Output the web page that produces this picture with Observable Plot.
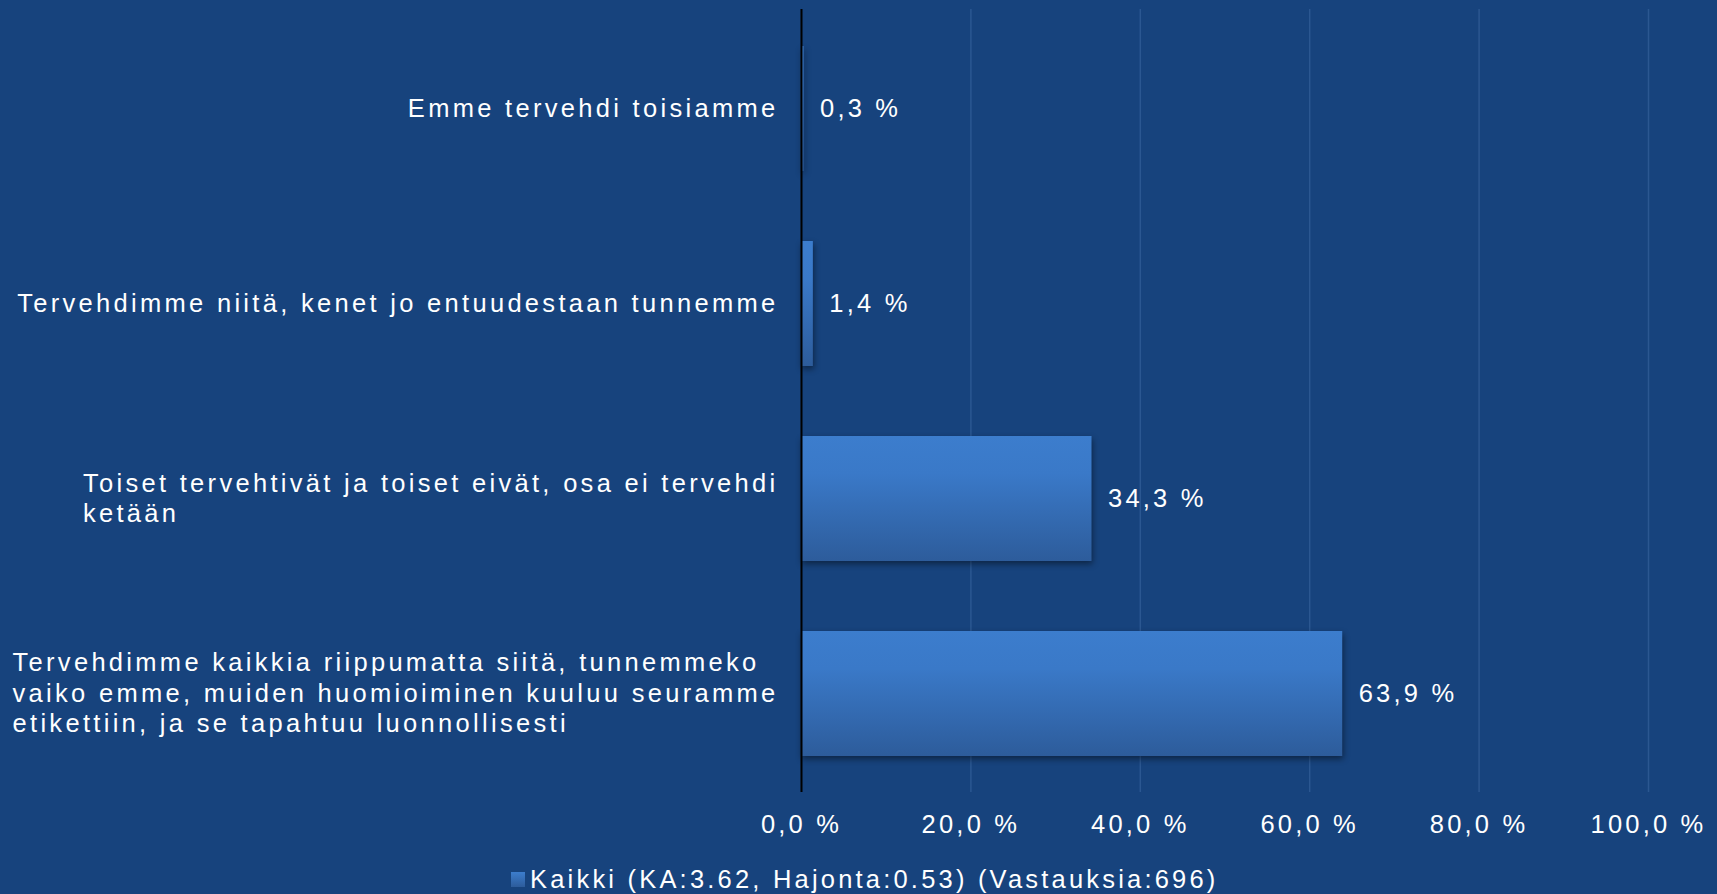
<!DOCTYPE html>
<html><head><meta charset="utf-8">
<script src="https://cdn.jsdelivr.net/npm/d3@7"></script>
<script src="https://cdn.jsdelivr.net/npm/@observablehq/plot@0.6"></script>
<style>
html,body{margin:0;padding:0;background:#17437D;width:1717px;height:894px;overflow:hidden;}
#chart{position:relative;width:1717px;height:894px;font-family:"Liberation Sans",Arial,sans-serif;color:#fff;letter-spacing:3.2px;}
#chart svg{display:block;}
#legend{position:absolute;left:511px;top:865px;font-size:25.5px;line-height:29px;display:flex;align-items:center;white-space:nowrap;}
#legend .sw{width:14px;height:15px;background:linear-gradient(#3C7DCD,#2D5C9B);margin-right:5px;}
</style></head><body><div id="chart"></div>
<script>
const categories = [
  "Emme tervehdi toisiamme",
  "Tervehdimme niitä, kenet jo entuudestaan tunnemme",
  "Toiset tervehtivät ja toiset eivät, osa ei tervehdi ketään",
  "Tervehdimme kaikkia riippumatta siitä, tunnemmeko vaiko emme, muiden huomioiminen kuuluu seuramme etikettiin, ja se tapahtuu luonnollisesti"
];
const labelLines = [
  ["Emme tervehdi toisiamme"],
  ["Tervehdimme niitä, kenet jo entuudestaan tunnemme"],
  ["Toiset tervehtivät ja toiset eivät, osa ei tervehdi", "ketään"],
  ["Tervehdimme kaikkia riippumatta siitä, tunnemmeko", "vaiko emme, muiden huomioiminen kuuluu seuramme", "etikettiin, ja se tapahtuu luonnollisesti"]
];
const values = [0.3, 1.4, 34.3, 63.9];
const xTicks = [0, 20, 40, 60, 80, 100];
const seriesName = "Kaikki (KA:3.62, Hajonta:0.53) (Vastauksia:696)";

const data = categories.map((c, i) => ({category: c, value: values[i]}));
const fmtPct = v => v.toFixed(1).replace(".", ",") + " %";

const plot = Plot.plot({
  width: 1717, height: 852,
  marginLeft: 801, marginRight: 69, marginTop: 9, marginBottom: 60,
  style: {background: "transparent", color: "#fff", fontFamily: "'Liberation Sans', Arial, sans-serif", fontSize: "25.5px", letterSpacing: "3.2px"},
  x: {domain: [0, 100], label: null},
  y: {domain: categories, paddingInner: 0.36, paddingOuter: 0.18, label: null},
  marks: [
    Plot.gridX(xTicks.filter(t => t > 0), {stroke: "#2B5791", strokeOpacity: 1, strokeWidth: 1.5}),
    Plot.barX(data, {x: "value", y: "category", fill: "url(#barGrad)"}),
    Plot.ruleX([0], {stroke: "#000", strokeWidth: 2}),
    Plot.axisX(xTicks, {tickSize: 0, tickPadding: 22, tickFormat: fmtPct, fontSize: 25.5, fill: "#fff"}),
    Plot.axisY({tickSize: 0, tickPadding: 23, dy: -2, tickFormat: d => labelLines[categories.indexOf(d)].join("\n"), lineHeight: 1.2, fontSize: 25.5, fill: "#fff"}),
    Plot.text(data, {x: "value", y: "category", text: d => fmtPct(d.value), textAnchor: "start", dx: 16, fill: "#fff", fontSize: 25.5})
  ]
});

const chart = document.getElementById("chart");
chart.appendChild(plot);

// gradient for bars
const ns = "http://www.w3.org/2000/svg";
const defs = document.createElementNS(ns, "defs");
defs.innerHTML = '<linearGradient id="barGrad" x1="0" y1="0" x2="0" y2="1"><stop offset="0" stop-color="#3C7DCD"/><stop offset="0.3" stop-color="#3A79C8"/><stop offset="1" stop-color="#2D5C9B"/></linearGradient>';
plot.insertBefore(defs, plot.firstChild);
const barG = plot.querySelector('g[aria-label="bar"]');
if (barG) barG.style.filter = "drop-shadow(1px 3px 3px rgba(0,0,0,0.45))";

// y labels: slightly wider letter spacing
const yLab = plot.querySelector('g[aria-label="y-axis tick label"]');
if (yLab) yLab.style.letterSpacing = "3.3px";

// left-align wrapped y labels inside a right-aligned block
plot.querySelectorAll('g[aria-label="y-axis tick label"] text').forEach(t => {
  const spans = t.querySelectorAll("tspan");
  if (spans.length < 2) return;
  const bb = t.getBBox();
  const right = bb.x + bb.width;
  let w = 0;
  spans.forEach(s => { w = Math.max(w, s.getComputedTextLength()); });
  t.setAttribute("text-anchor", "start");
  spans.forEach(s => s.setAttribute("x", right - w));
});

// legend
const legend = document.createElement("div");
legend.id = "legend";
legend.innerHTML = '<span class="sw"></span><span></span>';
legend.lastChild.textContent = seriesName;
chart.appendChild(legend);
</script></body></html>
